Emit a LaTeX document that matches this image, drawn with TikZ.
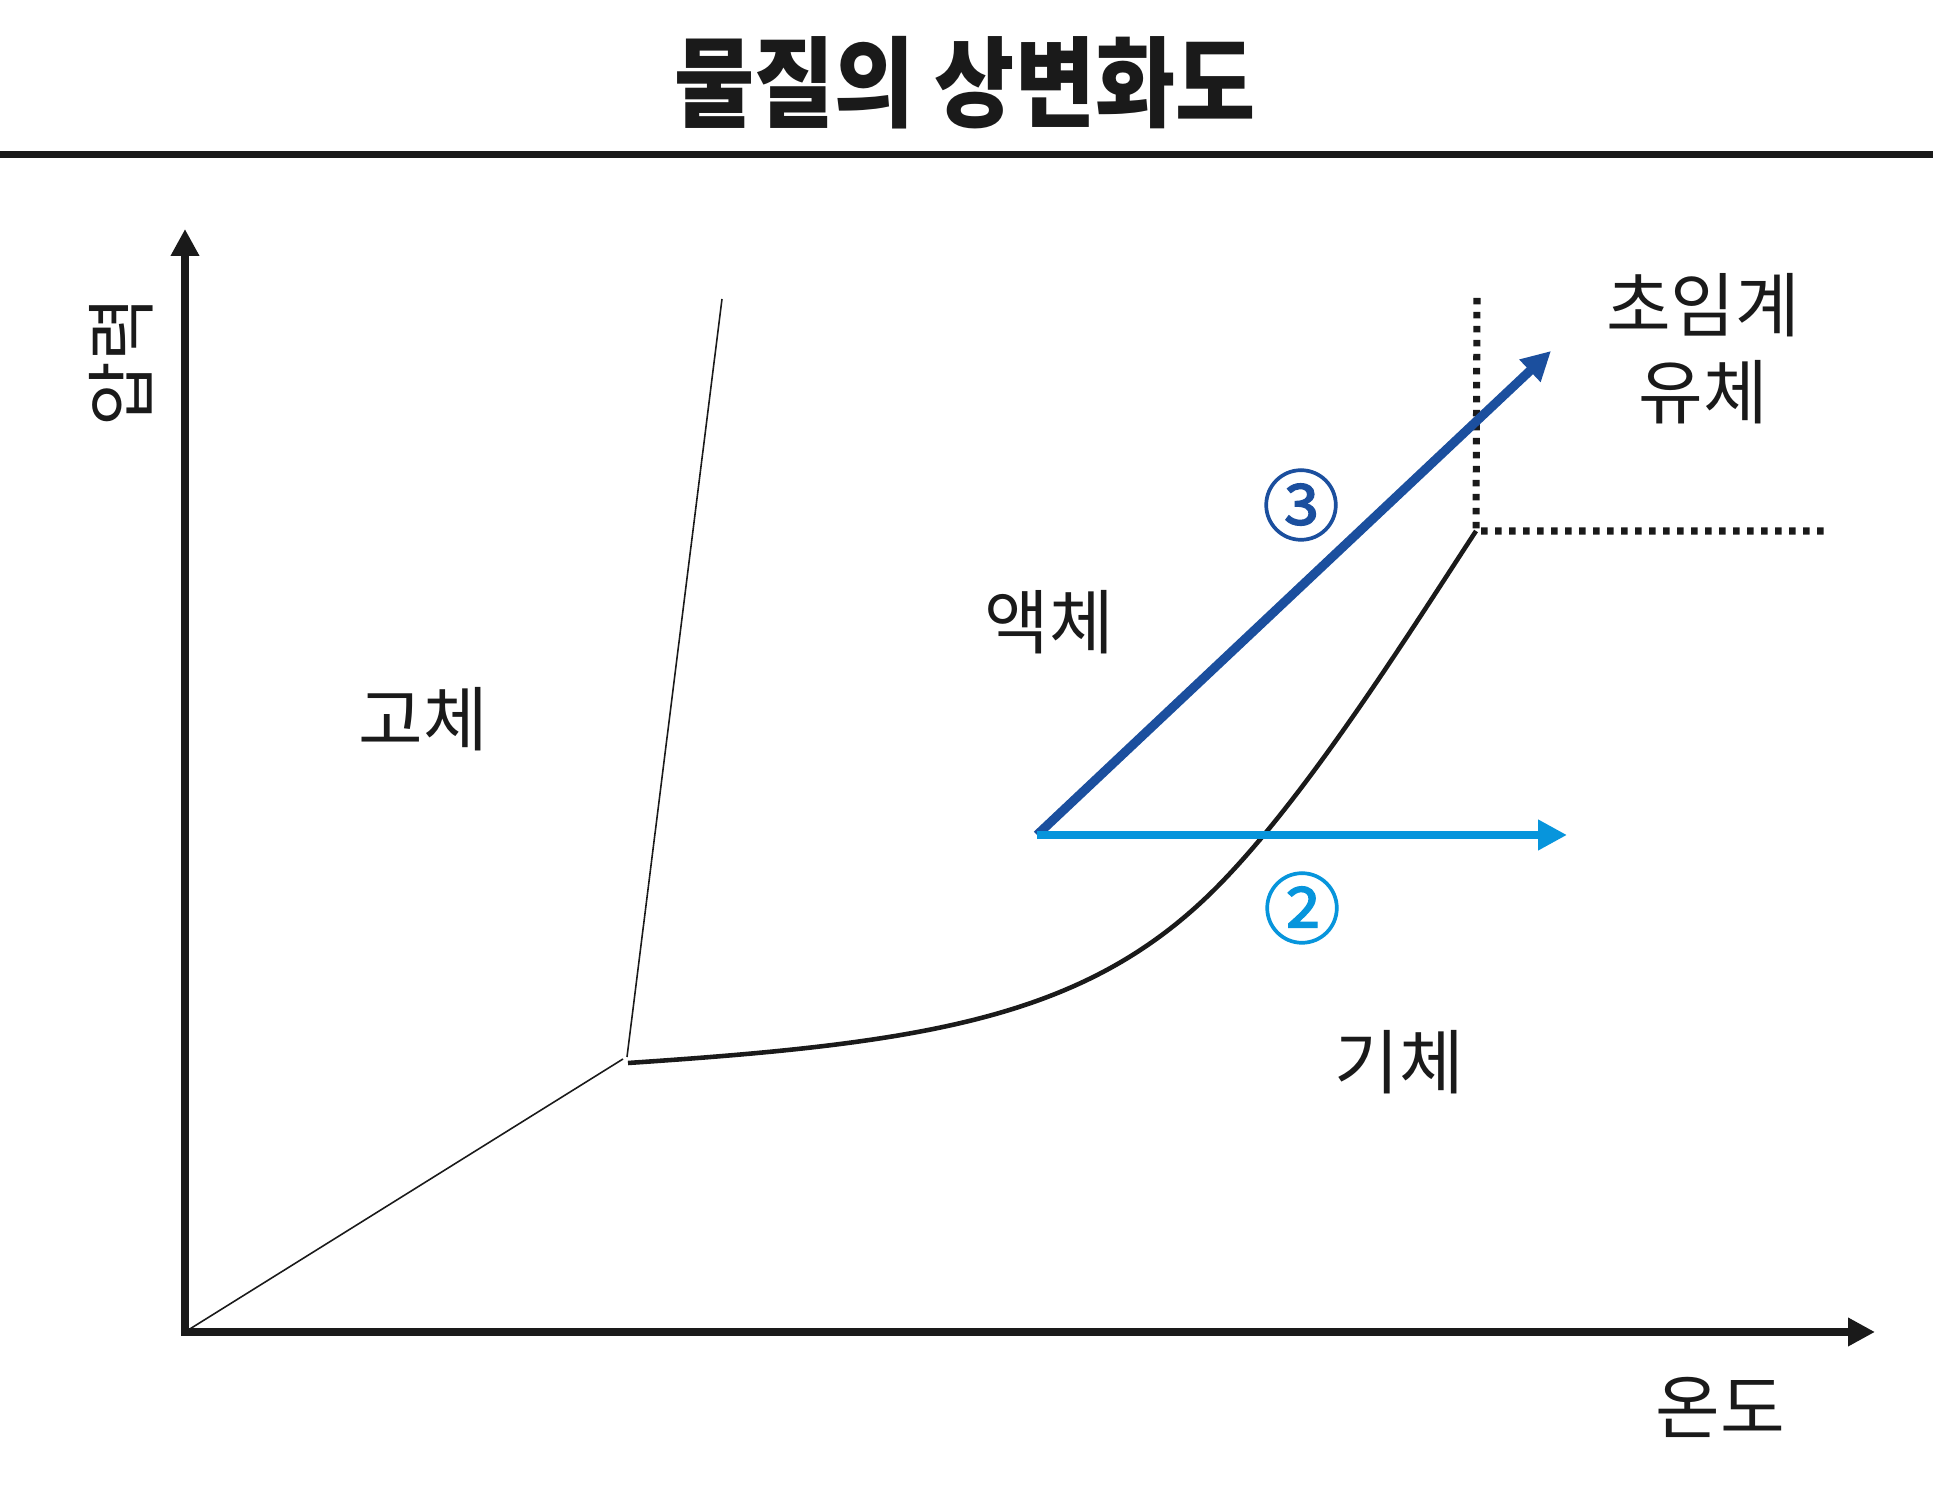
\documentclass[tikz,border=0pt]{standalone}
\usepackage{fontspec}
\setmainfont{Noto Sans CJK KR}
\newfontfamily\stepfont{Noto Sans CJK KR}[FakeBold=1.6]
\usetikzlibrary{arrows.meta, positioning, calc}
\definecolor{ink}{HTML}{1A1A1A}
\definecolor{deepblue}{HTML}{1B4F9E}
\definecolor{skyblue}{HTML}{0795DC}

\begin{document}
\begin{tikzpicture}[x=1cm, y=1cm,
    every node/.style={text=ink, inner sep=0pt},
    axis/.style={ink, line width=2pt, line join=miter,
        {Triangle[length=0.27cm, width=0.27cm]}-{Triangle[length=0.27cm, width=0.27cm]}},
    thinline/.style={ink, line width=0.45pt},
    vapour/.style={ink, line width=1.3pt},
    dotline/.style={ink, line width=2pt, dash pattern=on 0.065cm off 0.075cm},
    path3/.style={deepblue, line width=2.6pt, -{Triangle[length=0.29cm, width=0.29cm]}},
    path2/.style={skyblue, line width=2.4pt, -{Triangle[length=0.29cm, width=0.29cm]}},
    phase/.style={font=\fontsize{20}{24.7}\selectfont, align=center},
    stepno/.style={font=\stepfont\fontsize{22}{26}\selectfont}
]

% ---------------- canvas (19.36 x 14.95), white ----------------
\fill[white] (0,0) rectangle (19.36,14.95);
\useasboundingbox (0,0) rectangle (19.36,14.95);

% ---------------- heading ----------------
\node[font=\fontsize{28}{32}\selectfont\bfseries] (title) at (9.65,14.12)
    {\scalebox{0.885}[1]{물질의 상변화도}};
\coordinate (ruleL) at (0,13.40);
\coordinate (ruleR) at (19.33,13.40);
\draw[ink, line width=2pt] (ruleL) -- (ruleR);

% ---------------- axes ----------------
\coordinate (origin) at (1.85,1.63);
\coordinate (ytip) at (1.85,12.66);
\coordinate (xtip) at (18.75,1.63);
\draw[axis] (ytip) -- (origin) -- (xtip);
\node[phase, rotate=90] (pres) at (1.21,11.33) {압력};
\node[phase] (temp) at (17.20,0.88) {온도};

% ---------------- phase boundaries ----------------
\coordinate (sublend) at (6.23,4.36);
\coordinate (meltbot) at (6.27,4.38);
\coordinate (melttop) at (7.22,11.96);
\coordinate (triple) at (6.28,4.32);
\coordinate (bend) at (12.17,6.08);
\coordinate (crit) at (14.76,9.64);
\draw[thinline] (origin) -- (sublend);
\draw[thinline] (meltbot) -- (melttop);
\draw[vapour] (triple) .. controls (9.28,4.52) and (10.87,4.77) .. (bend)
    .. controls (13.07,6.99) and (14.06,8.57) .. (crit);

% critical limits, dotted
\coordinate (dtop) at (14.77,11.97);
\coordinate (dright) at (18.27,9.64);
\draw[dotline] (dtop) -- (crit) -- (dright);

% ---------------- phase labels ----------------
\node[phase] (solid) at (4.23,7.76) {고체};
\node[phase] (liquid) at (10.49,8.73) {액체};
\node[phase] (gas) at (13.99,4.33) {기체};
\node[phase] (scf) at (17.03,11.46) {초임계\\유체};

% ---------------- process paths ----------------
\coordinate (start) at (10.37,6.60);
\coordinate (tip3) at (15.51,11.44);
\coordinate (tip2) at (15.67,6.60);
\draw[path3] (start) -- (tip3);
\draw[path2] (start) -- (tip2);
\node[stepno, text=deepblue] (n3) at (13.01,9.90) {③};
\node[stepno, text=skyblue] (n2) at (13.02,5.87) {②};

\end{tikzpicture}
\end{document}
